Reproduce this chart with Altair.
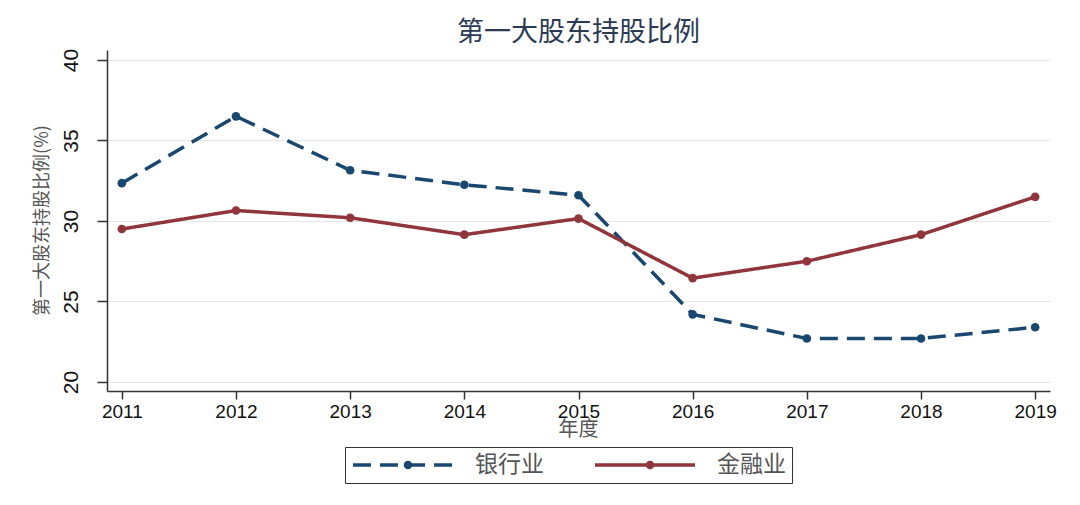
import altair as alt
import pandas as pd

years = [2011, 2012, 2013, 2014, 2015, 2016, 2017, 2018, 2019]
bank = [32.35, 36.5, 33.15, 32.25, 31.6, 24.2, 22.7, 22.7, 23.4]
finance = [29.5, 30.65, 30.2, 29.15, 30.15, 26.45, 27.5, 29.15, 31.5]
series_names = ["银行业", "金融业"]
series_colors = ["#1a476f", "#90353b"]
y_ticks = [20, 25, 30, 35, 40]

rows = []
for y, b, f in zip(years, bank, finance):
    rows.append({"year": y, "value": b, "series": series_names[0]})
    rows.append({"year": y, "value": f, "series": series_names[1]})
df = pd.DataFrame(rows)

CJK = "Noto Sans CJK SC"
NUM = "Liberation Sans"

legend = alt.Legend(
    title=None,
    orient="none",
    legendX=238,
    legendY=397,
    direction="horizontal",
    symbolType="M-1,0H9M4.25,0a0.25,0.25 0 1,0 0.5,0a0.25,0.25 0 1,0 -0.5,0",
    symbolSize=400,
    symbolStrokeWidth=3.5,
    labelOffset=100,
    columnPadding=44,
    labelFont=CJK,
    labelFontSize=23,
    labelColor="#555555",
    strokeColor="#333333",
    padding=6,
    cornerRadius=0,
)

chart = alt.Chart(df).mark_line(
    strokeWidth=3.5,
    point=alt.OverlayMarkDef(filled=True, size=75),
).encode(
    x=alt.X(
        "year:Q",
        scale=alt.Scale(domain=[2010.87, 2019.13], nice=False, zero=False),
        axis=alt.Axis(
            values=years,
            format="d",
            title="年度",
            grid=False,
            domainColor="#333333",
            domainWidth=1.5,
            tickColor="#333333",
            tickSize=8,
            tickWidth=1.5,
            labelFont=NUM,
            labelFontSize=19,
            labelColor="#111111",
            labelPadding=3,
            titleFont=CJK,
            titleFontSize=20,
            titleFontWeight="normal",
            titleColor="#555555",
            titleX=471,
            titleY=38,
            titleBaseline="middle",
        ),
    ),
    y=alt.Y(
        "value:Q",
        scale=alt.Scale(domain=[19.44, 40.62], nice=False, zero=False),
        axis=alt.Axis(
            values=y_ticks,
            title="第一大股东持股比例(%)",
            grid=True,
            gridColor="#e6e6e6",
            gridWidth=1,
            domainColor="#333333",
            domainWidth=1.5,
            tickColor="#333333",
            tickSize=10,
            tickWidth=1.5,
            labelFont=NUM,
            labelFontSize=21,
            labelColor="#111111",
            labelAngle=-90,
            labelAlign="center",
            labelBaseline="bottom",
            labelPadding=16,
            titleFont=CJK,
            titleFontSize=18,
            titleFontWeight="normal",
            titleColor="#555555",
            titleAngle=-90,
            titleX=-65,
            titleY=170,
            titleAlign="center",
            titleBaseline="middle",
        ),
    ),
    color=alt.Color(
        "series:N",
        scale=alt.Scale(domain=series_names, range=series_colors),
        legend=legend,
    ),
    strokeDash=alt.StrokeDash(
        "series:N",
        scale=alt.Scale(domain=series_names, range=[[18, 9], [1, 0]]),
        legend=legend,
    ),
).properties(
    width=943,
    height=341,
    title=alt.TitleParams(
        "第一大股东持股比例",
        font=CJK,
        fontSize=27,
        fontWeight="normal",
        color="#2b3a55",
        offset=1,
    ),
    autosize=alt.AutoSizeParams(type="none"),
    padding={"left": 99, "top": 42, "right": 22, "bottom": 100},
).configure_view(stroke=None)

chart.save("out.html", embed_options={"renderer": "svg", "actions": False})
